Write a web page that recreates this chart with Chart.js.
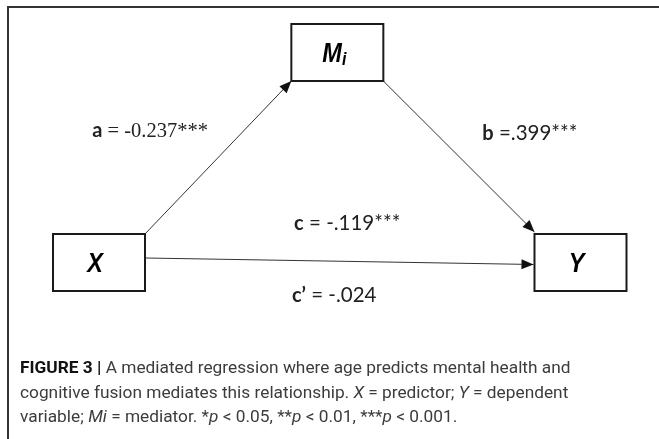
<!DOCTYPE html>
<html>
<head>
<meta charset="utf-8">
<script src="https://cdn.jsdelivr.net/npm/chart.js@4.4.1/dist/chart.umd.min.js"></script>
<style>
    html, body { margin: 0; padding: 0; background: #fff; }
    #wrap { position: relative; width: 659px; height: 439px; overflow: hidden; }
    #frame {
        position: absolute; left: 7px; top: 6px; right: 0; bottom: 0;
        border-top: 2px solid #333; border-left: 2px solid #333;
    }
    #chart { position: absolute; left: 0; top: 0; width: 659px; height: 439px; }
    #caption {
        position: absolute; left: 20px; top: 355px; width: 635px;
        font-family: "Roboto", "Liberation Sans", sans-serif;
        font-size: 17.3px; line-height: 24.5px; color: #3c3c3c;
        white-space: nowrap;
    }
    #caption b { color: #111; font-weight: 700; }
</style>
</head>
<body>
<div id="wrap">
    <div id="frame"></div>
    <div id="chart"><canvas id="c"></canvas></div>
    <div id="caption">
        <b>FIGURE 3 |</b> A mediated regression where age predicts mental health and<br>
        cognitive fusion mediates this relationship. <i>X</i> = predictor; <i>Y</i> = dependent<br>
        variable; <i>Mi</i> = mediator. *<i>p</i> &lt; 0.05, **<i>p</i> &lt; 0.01, ***<i>p</i> &lt; 0.001.
    </div>
</div>
<script>
// nodes of the mediation model (column / row on the diagram grid)
var nodeNames = ['X', 'M', 'Y'];
var nodeSub = ['', 'i', ''];
var nodeCol = [0, 0.99, 2];
var nodeRow = [0, 1, 0];

// paths and their coefficients
var pathNames = ['a', 'b', 'c', 'c\u2019'];
var pathFrom = [0, 1, 0, 0];
var pathTo = [1, 2, 2, 2];
var pathCoef = [-0.237, 0.399, -0.119, -0.024];
var pathStars = ['***', '***', '***', ''];

function coefText(i) {
    var v = pathCoef[i];
    var s = Math.abs(v).toFixed(3);
    if (i !== 0) s = s.replace(/^0/, '');  // a keeps the leading zero
    return (v < 0 ? '-' : '') + s;
}

var BOX_W = 92, BOX_H = 57;

function arrow(ctx, x1, y1, x2, y2) {
    ctx.beginPath();
    ctx.moveTo(x1, y1);
    ctx.lineTo(x2, y2);
    ctx.stroke();
    var ang = Math.atan2(y2 - y1, x2 - x1);
    var len = 12, wid = 5;
    ctx.beginPath();
    ctx.moveTo(x2, y2);
    ctx.lineTo(x2 - len * Math.cos(ang) + wid * Math.sin(ang), y2 - len * Math.sin(ang) - wid * Math.cos(ang));
    ctx.lineTo(x2 - len * Math.cos(ang) - wid * Math.sin(ang), y2 - len * Math.sin(ang) + wid * Math.cos(ang));
    ctx.closePath();
    ctx.fill();
}

function runs(ctx, parts, cx, by, sx) {
    sx = sx || 1;
    var total = 0;
    parts.forEach(function (p) { ctx.font = p.f; total += ctx.measureText(p.t).width * sx; });
    var x = cx - total / 2;
    parts.forEach(function (p) {
        ctx.font = p.f;
        ctx.save();
        ctx.translate(x, by + (p.dy || 0));
        ctx.scale(sx, 1);
        ctx.fillText(p.t, 0, 0);
        ctx.restore();
        x += ctx.measureText(p.t).width * sx;
    });
}

var diagram = {
    id: 'diagram',
    afterDatasetsDraw: function (chart) {
        var ctx = chart.ctx;
        var xs = chart.scales.x, ys = chart.scales.y;
        var cx = nodeCol.map(function (v) { return xs.getPixelForValue(v); });
        var cy = nodeRow.map(function (v) { return ys.getPixelForValue(v); });
        var hw = BOX_W / 2, hh = BOX_H / 2;

        ctx.save();
        ctx.textAlign = 'left';
        ctx.textBaseline = 'alphabetic';

        // paths
        ctx.strokeStyle = '#333';
        ctx.fillStyle = '#111';
        ctx.lineWidth = 1;
        // a: X top-right corner -> M bottom-left corner
        var ax1 = cx[pathFrom[0]] + hw, ay1 = cy[pathFrom[0]] - hh;
        var ax2 = cx[pathTo[0]] - hw, ay2 = cy[pathTo[0]] + hh;
        arrow(ctx, ax1, ay1, ax2, ay2);
        // b: M bottom-right corner -> Y top-left corner
        var bx1 = cx[pathFrom[1]] + hw, by1 = cy[pathFrom[1]] + hh;
        var bx2 = cx[pathTo[1]] - hw, by2 = cy[pathTo[1]] - hh - 2;
        arrow(ctx, bx1, by1, bx2, by2);
        // c / c': X right -> Y left
        var cx1 = cx[pathFrom[2]] + hw, cy1 = cy[pathFrom[2]] - 4.5;
        var cx2 = cx[pathTo[2]] - hw - 1, cy2 = cy[pathTo[2]] + 2;
        arrow(ctx, cx1, cy1, cx2, cy2);

        // boxes
        nodeNames.forEach(function (n, i) {
            ctx.fillStyle = '#fff';
            ctx.fillRect(cx[i] - hw, cy[i] - hh, BOX_W, BOX_H);
            ctx.strokeStyle = '#1a1a1a';
            ctx.lineWidth = 2;
            ctx.strokeRect(cx[i] - hw, cy[i] - hh, BOX_W, BOX_H);
            ctx.fillStyle = '#000';
            var parts = [{ t: n, f: 'italic bold 28px "Liberation Sans", Arial, sans-serif' }];
            if (nodeSub[i]) parts.push({ t: nodeSub[i], f: 'italic bold 19px "Liberation Sans", Arial, sans-serif', dy: 3 });
            runs(ctx, parts, cx[i] - 4 + (nodeSub[i] ? 1 : 0), cy[i] + 10, 0.84);
        });

        // coefficient labels
        ctx.fillStyle = '#222';
        var bold = 'bold 20px Lato, sans-serif', reg = '20.5px Lato, sans-serif';
        var serif = '20.5px "Liberation Serif", serif';
        var ma = [(ax1 + ax2) / 2, (ay1 + ay2) / 2];
        runs(ctx, [{ t: pathNames[0], f: bold }, { t: ' = ' + coefText(0) + pathStars[0], f: serif }], ma[0] - 68, ma[1] - 20);
        var mb = [(bx1 + bx2) / 2, (by1 + by2) / 2];
        runs(ctx, [{ t: pathNames[1], f: bold }, { t: ' =' + coefText(1) + pathStars[1], f: reg }], mb[0] + 71, mb[1] - 16);
        var mc = [(cx1 + cx2) / 2, (cy1 + cy2) / 2];
        runs(ctx, [{ t: pathNames[2], f: bold }, { t: ' = ' + coefText(2) + pathStars[2], f: reg }], mc[0] + 8, mc[1] - 31);
        runs(ctx, [{ t: pathNames[3], f: bold }, { t: ' = ' + coefText(3) + pathStars[3], f: reg }], mc[0] - 5, mc[1] + 41);
        ctx.restore();
    }
};

window.onload = function () {
    var ctx = document.getElementById('c').getContext('2d');
    new Chart(ctx, {
        type: 'scatter',
        data: {
            datasets: [{
                label: 'nodes',
                data: nodeCol.map(function (v, i) { return { x: v, y: nodeRow[i] }; }),
                pointRadius: 0,
                pointHoverRadius: 0
            }]
        },
        options: {
            responsive: true,
            maintainAspectRatio: false,
            animation: false,
            events: [],
            layout: { padding: 0 },
            plugins: { legend: { display: false }, tooltip: { enabled: false } },
            scales: {
                x: { type: 'linear', display: false, min: -0.4112, max: 2.3261 },
                y: { type: 'linear', display: false, min: -0.8405, max: 1.25 }
            }
        },
        plugins: [diagram]
    });
};
</script>
</body>
</html>
